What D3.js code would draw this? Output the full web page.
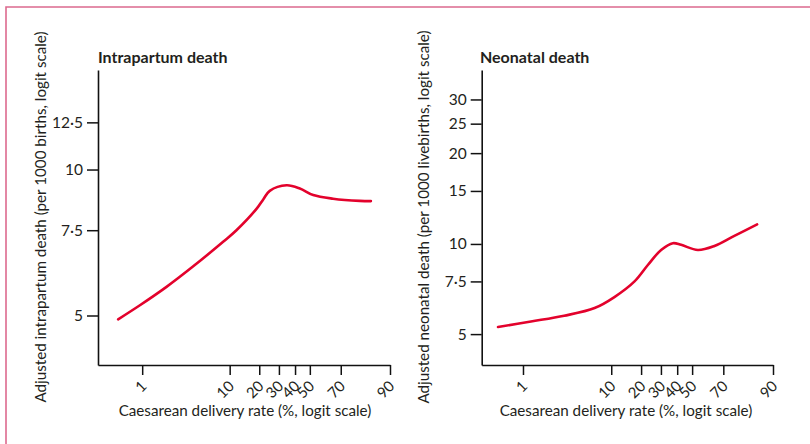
<!DOCTYPE html>
<html><head><meta charset="utf-8">
<script src="https://cdn.jsdelivr.net/npm/d3@7"></script>
<style>
body{margin:0;background:#fff}
svg{display:block}
text{font-family:Lato,"Noto Sans",sans-serif;fill:#231f20}
</style></head><body>
<script>
// ---- data ----
const xTicks = [1, 10, 20, 30, 40, 50, 70, 90];             // Caesarean rate, %
const intraTicks = [5, 7.5, 10, 12.5];                      // per 1000 births
const neoTicks = [5, 7.5, 10, 15, 20, 25, 30];              // per 1000 livebirths
const intraRate = [0.52, 0.94, 1.93, 3.9, 8.5, 11.8, 18.9, 21.8, 25, 34.6, 43.2, 52.3, 65.4, 79.7, 84.2];
const intraDeath = [4.91, 5.25, 5.73, 6.31, 7.10, 7.5, 8.31, 8.68, 9.04, 9.28, 9.14, 8.86, 8.71, 8.62, 8.61];
const neoRate = [0.51, 1.24, 3.0, 6.6, 10.8, 17.3, 23.1, 30.1, 37.2, 42.6, 53.9, 64.7, 75.9, 85.4];
const neoDeath = [5.28, 5.51, 5.76, 6.11, 6.65, 7.50, 8.51, 9.55, 10.06, 9.93, 9.55, 9.85, 10.64, 11.61];

const W = 810, H = 444;
const logit = p => Math.log(p / (1 - p));
const fmt = v => String(v).replace(".", "\u00B7");

const svg = d3.select("body").append("svg").attr("width", W).attr("height", H);

// frame
svg.append("path").attr("d", `M6,${H} L6,7 L${W},7`)
  .attr("fill", "none").attr("stroke", "#dc6a8e").attr("stroke-width", 1.6);

const panels = [
  {title: "Intrapartum death", ylab: "Adjusted intrapartum death (per 1000 births, logit scale)",
   xr: [98, 390], xd: [0.30, 90], yr: [365, 70], yd: [3.95, 16.0], yt: intraTicks,
   rate: intraRate, death: intraDeath, ylx: 46, tx: 98, xlc: 245},
  {title: "Neonatal death", ylab: "Adjusted neonatal death (per 1000 livebirths, logit scale)",
   xr: [481.7, 773], xd: [0.328, 90], yr: [365, 70], yd: [3.94, 37.4], yt: neoTicks,
   rate: neoRate, death: neoDeath, ylx: 429, tx: 480, xlc: 626}
];

panels.forEach(p => {
  const x = d3.scaleLinear().domain(p.xd.map(v => logit(v / 100))).range(p.xr);
  const y = d3.scaleLinear().domain(p.yd.map(v => logit(v / 1000))).range(p.yr);
  const g = svg.append("g");

  // y axis
  const ya = g.append("g").attr("transform", `translate(${p.xr[0]},0)`)
    .call(d3.axisLeft(y).tickValues(p.yt.map(v => logit(v / 1000)))
      .tickFormat((d, i) => fmt(p.yt[i])).tickSize(11).tickPadding(4).tickSizeOuter(0));
  // x axis
  const xa = g.append("g").attr("transform", `translate(0,${p.yr[0]})`)
    .call(d3.axisBottom(x).tickValues(xTicks.map(v => logit(v / 100)))
      .tickFormat((d, i) => xTicks[i]).tickSize(10).tickSizeOuter(0));
  [ya, xa].forEach(a => {
    a.select(".domain").attr("stroke", "#111").attr("stroke-width", 1.6);
    a.selectAll(".tick line").attr("stroke", "#111").attr("stroke-width", 1.5);
    a.selectAll("text").attr("font-family", "Lato, 'Noto Sans', sans-serif").attr("fill", "#231f20");
  });
  ya.selectAll(".tick text").attr("font-size", 15.5);
  xa.selectAll(".tick text")
    .attr("font-size", 15).attr("y", null).attr("dy", null)
    .attr("text-anchor", "end")
    .attr("transform", "translate(5,22) rotate(-45)");

  // titles & labels
  g.append("text").attr("x", p.tx).attr("y", 63).attr("font-size", 16).attr("font-weight", 700).text(p.title);
  g.append("text").attr("transform", `translate(${p.ylx},217) rotate(-90)`)
    .attr("text-anchor", "middle").attr("font-size", 15.2).text(p.ylab);
  g.append("text").attr("x", p.xlc).attr("y", 416).attr("text-anchor", "middle")
    .attr("font-size", 15.2).text("Caesarean delivery rate (%, logit scale)");

  // curve
  const pts = p.rate.map((r, i) => [r, p.death[i]]);
  g.append("path").datum(pts)
    .attr("fill", "none").attr("stroke", "#e3022c").attr("stroke-width", 2.6)
    .attr("stroke-linecap", "round")
    .attr("d", d3.line().x(d => x(logit(d[0] / 100))).y(d => y(logit(d[1] / 1000)))
      .curve(d3.curveCatmullRom.alpha(0.5)));
});
</script>
</body></html>
